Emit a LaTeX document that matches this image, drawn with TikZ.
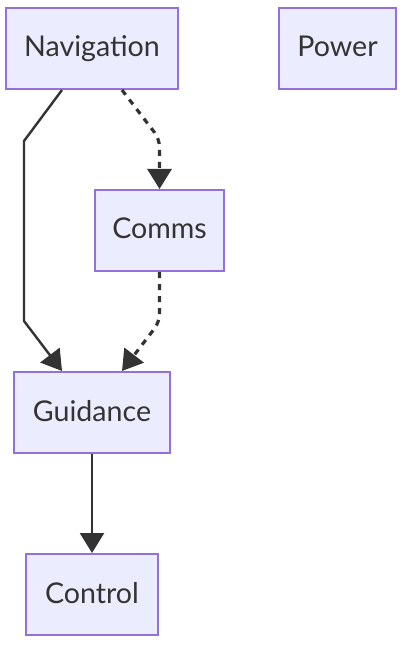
\documentclass[tikz,border=0pt]{standalone}
\usepackage{fontspec}
\setmainfont{Lato}
\usepackage{xcolor}
\usetikzlibrary{arrows.meta,positioning}

\definecolor{boxfill}{HTML}{ECECFF}
\definecolor{boxline}{HTML}{9370DB}
\definecolor{ink}{HTML}{333333}

\begin{document}
\begin{tikzpicture}[x=0.5pt, y=-0.5pt,
  >={Triangle[length=10pt, width=12pt]},
  box/.style={draw=boxline, fill=boxfill, line width=1pt, minimum height=40.5pt,
    inner xsep=0pt, align=center, text=ink, text height=11pt, text depth=2.5pt,
    font=\fontsize{14.3}{17}\selectfont},
  arr/.style={->, line width=1.2pt, color=ink},
  dotarr/.style={arr, line width=1.6pt, dash pattern=on 3pt off 3pt, rounded corners=4pt}
]
\useasboundingbox (0,0) rectangle (406,646);

% Nodes
\node[box, minimum width=86pt] (nav) at (92,48.5) {Navigation};
\node[box, minimum width=58.5pt] (power) at (337.5,48.5) {Power};
\node[box, minimum width=64.5pt] (comms) at (159.5,230.5) {Comms};
\node[box, minimum width=78pt] (guid) at (92,412.5) {Guidance};
\node[box, minimum width=66pt] (ctrl) at (92,594.5) {Control};

% Solid links
\draw[arr] ([xshift=-15pt]nav.south) -- ++(-19pt,-25.5pt)
  -- ([xshift=-34pt,yshift=25pt]guid.north) -- ([xshift=-15pt]guid.north);
\draw[arr] (guid) -- (ctrl);

% Dotted links
\draw[dotarr] ([xshift=15pt]nav.south) -- ([yshift=25pt]comms.north) -- (comms.north);
\draw[dotarr] (comms.south) -- ([yshift=-25pt]comms.south) -- ([xshift=15pt]guid.north);
\end{tikzpicture}
\end{document}
